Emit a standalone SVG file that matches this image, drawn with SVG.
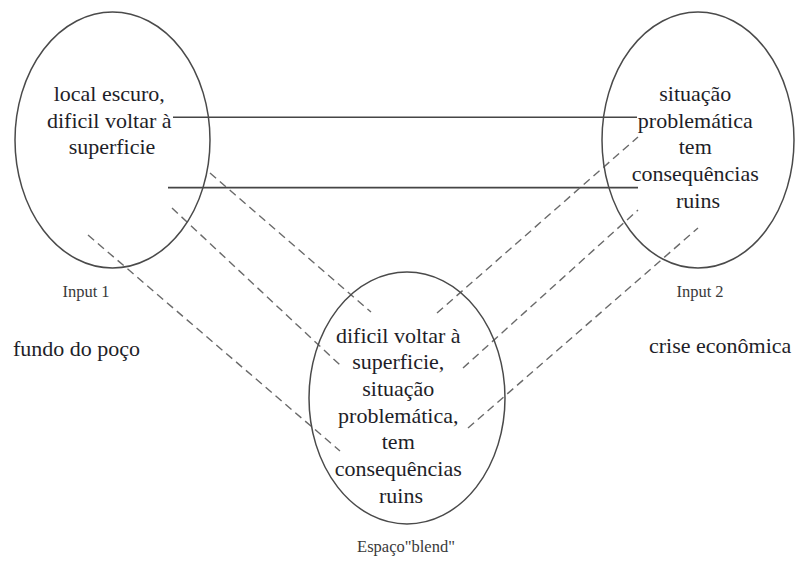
<svg xmlns="http://www.w3.org/2000/svg" width="795" height="564" viewBox="0 0 795 564">
  <style>
    .space { fill: none; stroke: #4a4a4a; stroke-width: 1.5; }
    text { font-family: "Liberation Serif", "DejaVu Serif", "Noto Serif", Tinos, "Times New Roman", Times, serif; }
    .txt { font-size: 22px; fill: #1e1e28; text-anchor: middle; }
    .lbl { font-size: 16.5px; fill: #3a3a3a; text-anchor: middle; }
    .note { font-size: 22px; fill: #1e1e28; }
    .solid { stroke: #454545; stroke-width: 1.6; fill: none; }
    .dash { stroke: #6a6a6a; stroke-width: 1.4; stroke-dasharray: 8 5; fill: none; }
  </style>
  <rect width="795" height="564" fill="#ffffff"/>

  <!-- cross-space mappings -->
  <g id="connectors">
    <line class="solid" x1="173" y1="117.3" x2="637" y2="117.3"/>
    <line class="solid" x1="168" y1="187.6" x2="638" y2="187.6"/>
    <line class="dash" x1="210" y1="173" x2="371" y2="312"/>
    <line class="dash" x1="172" y1="208" x2="340" y2="365"/>
    <line class="dash" x1="88" y1="235" x2="340" y2="451"/>
    <line class="dash" x1="437" y1="313" x2="638" y2="137"/>
    <line class="dash" x1="463" y1="368" x2="638" y2="210"/>
    <line class="dash" x1="468" y1="428" x2="698" y2="228"/>
  </g>

  <!-- input space 1 -->
  <g id="input1">
    <ellipse class="space" cx="112.5" cy="140" rx="97.5" ry="128"/>
    <text class="txt">
      <tspan x="112" y="101">local escuro,</tspan>
      <tspan x="112" y="127.7">dificil voltar à</tspan>
      <tspan x="112" y="154.4">superficie</tspan>
    </text>
    <text class="lbl" x="86" y="297">Input 1</text>
    <text class="note" x="13" y="356">fundo do poço</text>
  </g>

  <!-- input space 2 -->
  <g id="input2">
    <ellipse class="space" cx="698" cy="140" rx="96" ry="128"/>
    <text class="txt">
      <tspan x="698" y="101">situação</tspan>
      <tspan x="698" y="127.7">problemática</tspan>
      <tspan x="698" y="154.4">tem</tspan>
      <tspan x="698" y="181.1">consequências</tspan>
      <tspan x="698" y="207.8">ruins</tspan>
    </text>
    <text class="lbl" x="700" y="297">Input 2</text>
    <text class="note" x="649" y="353">crise econômica</text>
  </g>

  <!-- blended space -->
  <g id="blend">
    <ellipse class="space" cx="407" cy="398" rx="98" ry="126"/>
    <text class="txt">
      <tspan x="401" y="342.5">dificil voltar à</tspan>
      <tspan x="401" y="369.2">superficie,</tspan>
      <tspan x="401" y="395.9">situação</tspan>
      <tspan x="401" y="422.6">problemática,</tspan>
      <tspan x="401" y="449.3">tem</tspan>
      <tspan x="401" y="476">consequências</tspan>
      <tspan x="401" y="502.7">ruins</tspan>
    </text>
    <text class="lbl" x="406" y="552">Espaço"blend"</text>
  </g>
</svg>
